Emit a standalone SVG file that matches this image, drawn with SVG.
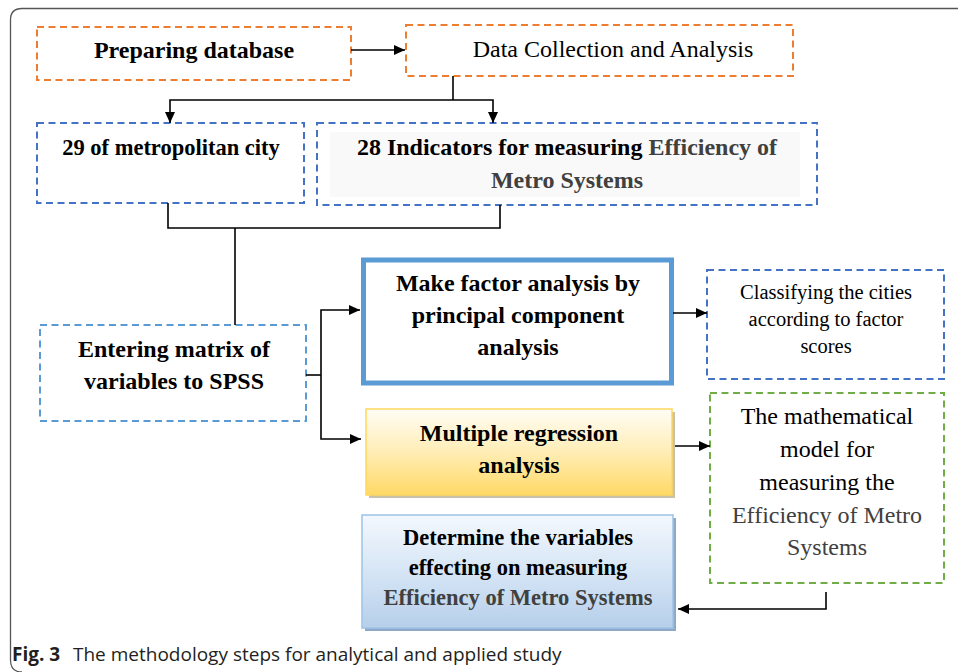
<svg xmlns="http://www.w3.org/2000/svg" width="958" height="672" viewBox="0 0 958 672">
<defs>
<marker id="ah" markerUnits="userSpaceOnUse" markerWidth="12" markerHeight="10" refX="11" refY="5" orient="auto">
<path d="M0 0 L11 5 L0 10 Z" fill="#000"/>
</marker>
<linearGradient id="gy" x1="0" y1="0" x2="0" y2="1">
<stop offset="0" stop-color="#fffdf5"/>
<stop offset="0.45" stop-color="#ffefbd"/>
<stop offset="1" stop-color="#ffd966"/>
</linearGradient>
<linearGradient id="gb" x1="0" y1="0" x2="0" y2="1">
<stop offset="0" stop-color="#f3f8fd"/>
<stop offset="0.5" stop-color="#d6e5f5"/>
<stop offset="1" stop-color="#b6cfea"/>
</linearGradient>
</defs>
<style>
.dash{fill:#fff;stroke-width:2;stroke-dasharray:7 4.5}
.or{stroke:#ed7d31}
.bl{stroke:#4472c4}
.lb{stroke:#5b9bd5}
.gr{stroke:#70ad47}
.b{font-family:"Liberation Serif",serif;font-weight:bold;text-anchor:middle;fill:#000}
.r{font-family:"Liberation Serif",serif;text-anchor:middle;fill:#000}
.gray{fill:#404040}
.ln{fill:none;stroke:#000;stroke-width:1.6}
.cap{font-family:"Open Sans","Noto Sans",sans-serif;font-size:19px;fill:#231f20}
</style>
<rect width="958" height="672" fill="#fff"/>
<path d="M958 8.5 H22 Q10.5 8.5 10.5 20 V660 Q10.5 672 22 672" fill="none" stroke="#555" stroke-width="1.3"/>

<g id="n-preparing">
<rect class="dash or" x="37" y="27" width="314" height="53"/>
<text class="b" x="194" y="58" font-size="24">Preparing database</text>
</g>
<g id="n-datacollection">
<rect class="dash or" x="406" y="25" width="387" height="51"/>
<text class="r" x="613" y="57" font-size="24">Data Collection and Analysis</text>
</g>
<g id="n-cities">
<rect class="dash bl" x="37" y="123" width="267" height="80"/>
<text class="b" x="171" y="155" font-size="22.5">29 of metropolitan city</text>
</g>
<g id="n-indicators">
<rect class="dash bl" x="317" y="123" width="500" height="82"/>
<rect x="330" y="132" width="470" height="65" fill="#f9f9f9"/>
<text class="b" x="567" y="155" font-size="24">28 Indicators for measuring <tspan class="gray">Efficiency of</tspan></text>
<text class="b gray" x="567" y="188" font-size="24">Metro Systems</text>
</g>
<g id="n-entering">
<rect class="dash lb" x="40" y="325" width="266" height="96"/>
<text class="b" x="174" y="357" font-size="24">Entering matrix of</text>
<text class="b" x="174" y="389" font-size="24">variables to SPSS</text>
</g>
<g id="n-factor">
<rect x="363.5" y="260" width="308" height="123" fill="#fff" stroke="#5b9bd5" stroke-width="5"/>
<text class="b" x="518" y="291" font-size="24">Make factor analysis by</text>
<text class="b" x="518" y="323" font-size="24">principal component</text>
<text class="b" x="518" y="355" font-size="24">analysis</text>
</g>
<g id="n-classifying">
<rect class="dash bl" x="707" y="270" width="237" height="109"/>
<text class="r" x="826" y="299" font-size="20.5">Classifying the cities</text>
<text class="r" x="826" y="326" font-size="20.5">according to factor</text>
<text class="r" x="826" y="353" font-size="20.5">scores</text>
</g>
<g id="n-regression">
<rect x="369" y="412" width="306" height="86" fill="#c9c1a8"/>
<rect x="366" y="409" width="306" height="86" fill="url(#gy)" stroke="#ffd75e" stroke-width="1.5"/>
<text class="b" x="519" y="441" font-size="24">Multiple regression</text>
<text class="b" x="519" y="473" font-size="24">analysis</text>
</g>
<g id="n-model">
<rect class="dash gr" x="710" y="393" width="234" height="190"/>
<text class="r" x="827" y="424" font-size="24">The mathematical</text>
<text class="r" x="827" y="457" font-size="24">model for</text>
<text class="r" x="827" y="490" font-size="24">measuring the</text>
<text class="r gray" x="827" y="523" font-size="24">Efficiency of Metro</text>
<text class="r gray" x="827" y="555" font-size="24">Systems</text>
</g>
<g id="n-determine">
<rect x="365" y="518" width="311" height="113" fill="#8ea9c8"/>
<rect x="362" y="515" width="311" height="113" fill="url(#gb)" stroke="#9dc3e6" stroke-width="1.5"/>
<text class="b" x="518" y="545" font-size="22.5">Determine the variables</text>
<text class="b" x="518" y="575" font-size="22.5">effecting on measuring</text>
<text class="b gray" x="518" y="605" font-size="22.5">Efficiency of Metro Systems</text>
</g>

<g id="connectors">
<path class="ln" d="M351 50 H405" marker-end="url(#ah)"/>
<path class="ln" d="M453 76 V100"/>
<path class="ln" d="M453 100 H170 V123" marker-end="url(#ah)"/>
<path class="ln" d="M453 100 H493 V123" marker-end="url(#ah)"/>
<path class="ln" d="M168 203 V228 H500 V205"/>
<path class="ln" d="M235 228 V325"/>
<path class="ln" d="M306 375 H321"/>
<path class="ln" d="M321 375 V310 H360" marker-end="url(#ah)"/>
<path class="ln" d="M321 375 V439 H361" marker-end="url(#ah)"/>
<path class="ln" d="M673 313 H707" marker-end="url(#ah)"/>
<path class="ln" d="M675 446 H710" marker-end="url(#ah)"/>
<path class="ln" d="M826 592 V609 H678" marker-end="url(#ah)"/>
</g>

<text class="cap" x="12" y="661"><tspan font-weight="bold">Fig. 3</tspan><tspan x="73">The methodology steps for analytical and applied study</tspan></text>
</svg>
